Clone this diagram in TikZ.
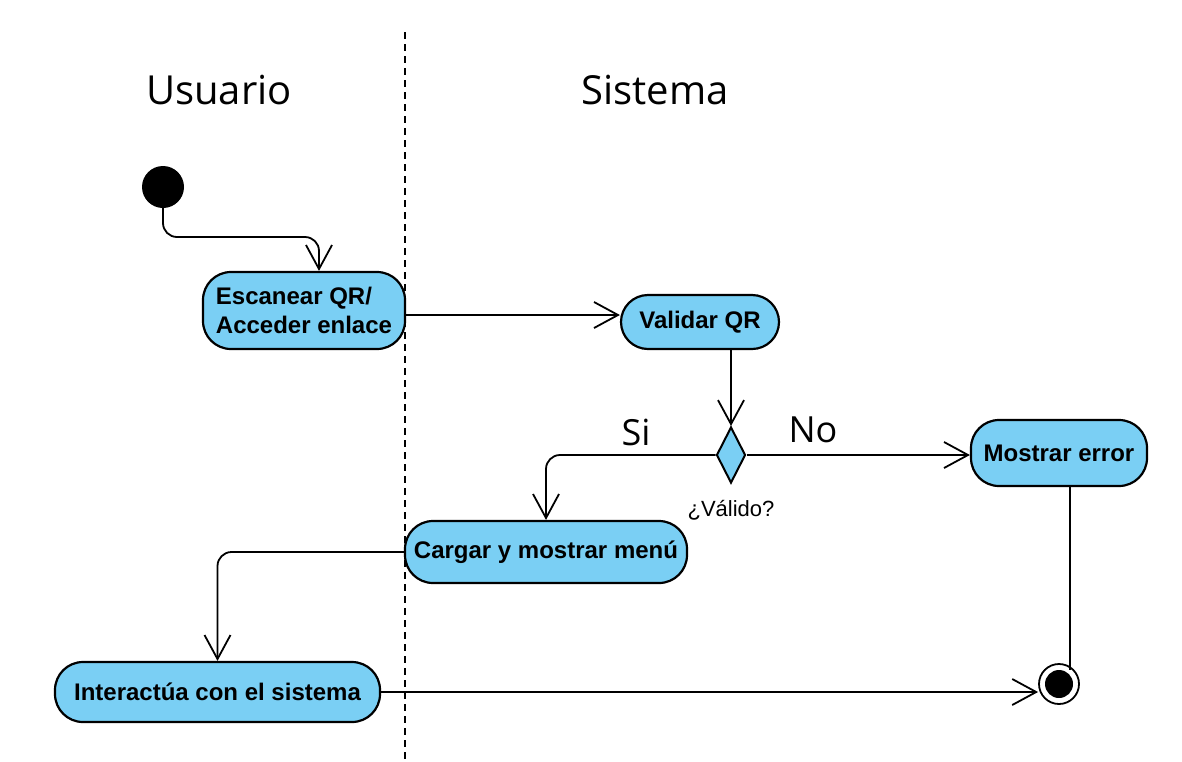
\documentclass[tikz,border=0pt]{standalone}
\usepackage{fontspec}
\setmainfont{Liberation Sans}
\newfontfamily\lanefont{Open Sans}
\usetikzlibrary{shapes.geometric,arrows.meta,calc}
\definecolor{actblue}{RGB}{122,207,244}
\tikzset{
  act/.style={draw=black, line width=2.2pt, fill=actblue, rounded corners=28pt,
    inner sep=0pt, align=center, font=\fontsize{24}{29}\selectfont\bfseries},
  conn/.style={draw=black, line width=1.8pt},
  arr/.style={conn, -{Straight Barb[length=24pt,width=26pt,line width=1.8pt]}},
  lane/.style={font=\lanefont\fontsize{40}{48}\selectfont},
  guard/.style={font=\lanefont\fontsize{36}{44}\selectfont},
}
\begin{document}
\begin{tikzpicture}[x=1pt,y=-1pt]
\useasboundingbox (0,0) rectangle (1182,761);
% swimlane divider
\coordinate (ltop) at (405,32);
\coordinate (lbot) at (405,761);
\draw[line width=1.8pt, dash pattern=on 7pt off 5pt] (ltop) -- (lbot);
\node[lane] (usuario) at (219,90) {Usuario};
\node[lane] (sistema) at (655,90) {Sistema};
% nodes
\node[circle, fill=black, minimum size=42pt, inner sep=0pt] (init) at (163,187) {};
\node[act, minimum width=202pt, minimum height=77pt, align=left] (esc) at (304,310.5) {Escanear QR/\\Acceder enlace};
\node[act, minimum width=158pt, minimum height=54pt, rounded corners=27pt] (val) at (700,322) {Validar QR};
\node[diamond, draw=black, line width=2pt, fill=actblue, minimum width=29pt, minimum height=56pt, inner sep=0pt] (dia) at (731,455) {};
\node[act, minimum width=176pt, minimum height=66pt] (mos) at (1059,453) {Mostrar error};
\node[act, minimum width=282pt, minimum height=62pt] (car) at (546,552) {Cargar y mostrar menú};
\node[act, minimum width=325pt, minimum height=60pt] (int) at (217.5,692) {Interactúa con el sistema};
\node[circle, draw=black, line width=1.8pt, fill=white, minimum size=40pt, inner sep=0pt] (fin) at (1059,684) {};
\node[circle, fill=black, minimum size=28pt, inner sep=0pt] (finin) at (fin.center) {};
% labels
\node[guard] (si) at (636,432) {Si};
\node[guard] (no) at (813,430) {No};
\node[font=\fontsize{22}{26}\selectfont] (valido) at (731,510) {¿Válido?};
% connectors
\coordinate (c1) at (319,237);
\draw[arr, rounded corners=14pt] (init.south) |- (c1) -- (c1 |- esc.north);
\draw[arr] (esc.east |- 0,315) -- (val.west |- 0,315);
\draw[arr] (dia.north |- val.south) -- (dia.north);
\draw[arr, rounded corners=14pt] (dia.west) -| (car.north);
\draw[arr] (dia.east) -- (mos.west |- dia.east);
\draw[arr, rounded corners=14pt] (car.west) -| (int.north);
\draw[arr] (int.east) -- (int.east -| fin.west);
\coordinate (c2) at ($(fin.center)+(11,-14)$);
\draw[conn] (mos.south -| c2) -- (c2);
\end{tikzpicture}
\end{document}
